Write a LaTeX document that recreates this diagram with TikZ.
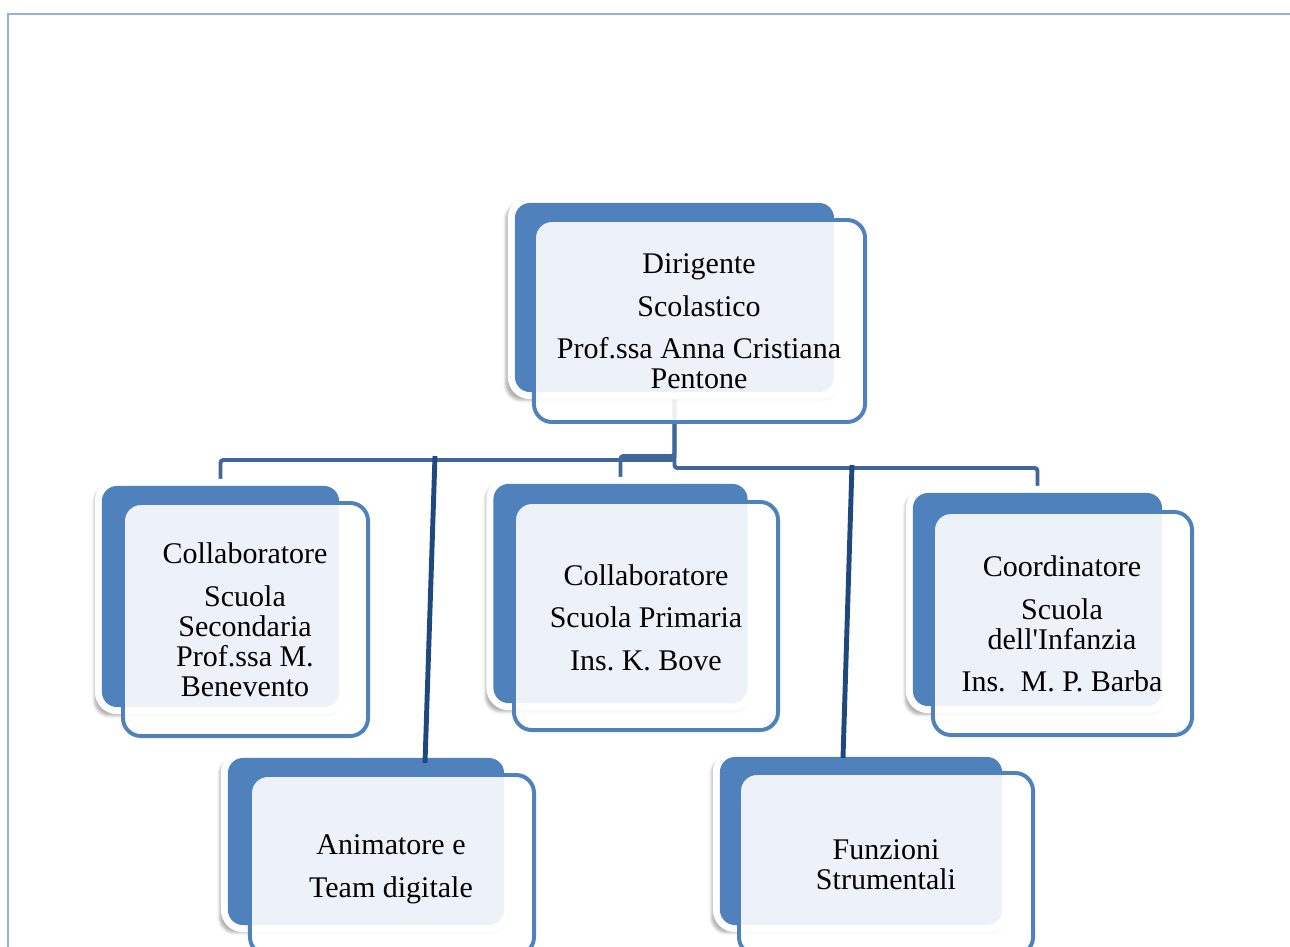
\documentclass[tikz,border=0pt]{standalone}
\usepackage{fontspec}
\setmainfont{Liberation Serif}
\usetikzlibrary{calc,shadows.blur}
\pgfdeclarelayer{background}
\pgfsetlayers{background,main}
\definecolor{boxblue}{HTML}{4F81BD}
\definecolor{linkblue}{HTML}{40679A}
\definecolor{darkblue}{HTML}{1F497D}
\definecolor{frameblue}{HTML}{95B3D7}
\frenchspacing
\begin{document}
\begin{tikzpicture}[x=0.025cm,y=-0.025cm,
		back/.style={rectangle,rounded corners=0.375cm,fill=boxblue,inner sep=0pt,outer sep=0pt,
			blur shadow={shadow xshift=-2pt,shadow yshift=-3pt,shadow scale=1.04,shadow opacity=30},
			preaction={draw=white,line width=10pt}},
		front/.style={rectangle,rounded corners=0.45cm,draw=boxblue,line width=2.8pt,fill=white,fill opacity=0.9,inner sep=0pt,outer sep=0pt},
		txt/.style={align=center,font=\fontsize{21.34}{21.34}\selectfont},
		link/.style={draw=linkblue,line width=2.8pt,rounded corners=2pt},
		fn/.style={draw=darkblue,line width=3.5pt}]
	\useasboundingbox (0,0) rectangle (1290,947);
	\draw[frameblue,line width=1.5pt] (8,947) -- (8,14) -- (1290,14);
	% dirigente
	\node[back,minimum width=7.975cm,minimum height=4.725cm] (dir) at (674.5,297.5) {};
	\node[front,minimum width=8.275cm,minimum height=5.05cm] (dir-f) at (699.5,321) {};
	\node[txt] (dir-t) at (699,321.5) {Dirigente\\[9pt] Scolastico\\[9pt] Prof.ssa Anna Cristiana\\ Pentone};
	% collaboratori e coordinatore
	\node[back,minimum width=5.925cm,minimum height=5.525cm] (sec) at (220.5,596.5) {};
	\node[front,minimum width=6.125cm,minimum height=5.825cm] (sec-f) at (245.5,619.5) {};
	\node[txt] (sec-t) at (245,620) {Collaboratore\\[9pt] Scuola\\ Secondaria\\ Prof.ssa M.\\ Benevento};
	\node[back,minimum width=6.35cm,minimum height=5.475cm] (pri) at (620.5,593.5) {};
	\node[front,minimum width=6.6cm,minimum height=5.7cm] (pri-f) at (646,616) {};
	\node[txt] (pri-t) at (646,617.5) {Collaboratore\\[9pt] Scuola Primaria\\[9pt] Ins. K. Bove};
	\node[back,minimum width=6.225cm,minimum height=5.325cm] (coo) at (1037.5,599.5) {};
	\node[front,minimum width=6.475cm,minimum height=5.575cm] (coo-f) at (1062.5,623.5) {};
	\node[txt] (coo-t) at (1062,624) {Coordinatore\\[9pt] Scuola\\ dell\textquotesingle Infanzia\\[9pt] Ins.\ \ M. P. Barba};
	% animatore e funzioni
	\node[back,minimum width=6.9cm,minimum height=4.175cm] (anim) at (366,841.5) {};
	\node[front,minimum width=7.1cm,minimum height=4.5cm] (anim-f) at (392,865) {};
	\node[txt] (anim-t) at (391,869.5) {Animatore e\\[9pt] Team digitale};
	\node[back,minimum width=7.05cm,minimum height=4.2cm] (fs) at (861,841) {};
	\node[front,minimum width=7.35cm,minimum height=4.55cm] (fs-f) at (886,864) {};
	\node[txt] (fs-t) at (886,865) {Funzioni\\ Strumentali};
	\begin{pgfonlayer}{background}
		\draw[link] (dir.south) -- ++(0,68) -| (sec.north);
		\draw[link] (dir.south) -- ++(0,64) -| (pri.north);
		\draw[link] (dir.south) -- ++(0,76) -| (coo.north);
	\end{pgfonlayer}
	\coordinate (anim-top) at (435,456);
	\coordinate (fs-top) at (852,465);
	\draw[fn] (anim-top) -- ($(anim.north)+(59,5)$);
	\draw[fn] (fs-top) -- ($(fs.north)+(-18,1)$);
\end{tikzpicture}
\end{document}
